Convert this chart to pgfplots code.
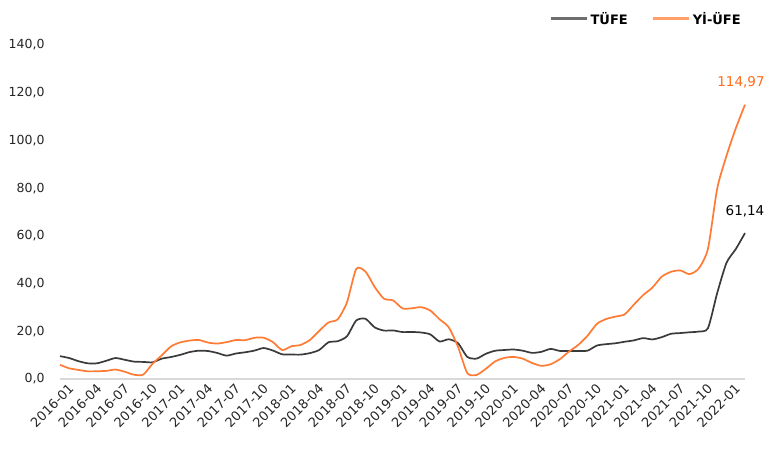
\documentclass[border=0pt]{standalone}
\usepackage{pgfplots}
\pgfplotsset{compat=1.18}
\usepackage{pgfplotstable}
\usepackage{fontspec}
\setmainfont{DejaVu Sans}
\definecolor{tufe}{HTML}{3A3A3A}
\definecolor{ufe}{HTML}{FF7A33}
\definecolor{ufelab}{HTML}{FF6A1A}
\definecolor{tufeleg}{HTML}{6E6E6E}
\definecolor{ufeleg}{HTML}{FF9F6A}
\definecolor{axgray}{HTML}{D9D9D9}
\pgfplotstableread{
x tufe ufe
0 9.58 5.94
1 8.78 4.47
2 7.46 3.80
3 6.57 3.21
4 6.58 3.25
5 7.64 3.41
6 8.79 3.96
7 8.05 3.03
8 7.28 1.78
9 7.16 1.84
10 7.00 6.41
11 8.53 9.94
12 9.22 13.69
13 10.13 15.36
14 11.29 16.09
15 11.87 16.37
16 11.72 15.26
17 10.90 14.87
18 9.79 15.45
19 10.68 16.34
20 11.20 16.28
21 11.90 17.28
22 12.98 17.30
23 11.92 15.47
24 10.35 12.14
25 10.26 13.71
26 10.23 14.28
27 10.85 16.37
28 12.15 20.16
29 15.39 23.71
30 15.85 25.00
31 17.90 32.13
32 24.52 46.15
33 25.24 45.01
34 21.62 38.54
35 20.30 33.64
36 20.35 32.93
37 19.67 29.59
38 19.71 29.64
39 19.50 30.12
40 18.71 28.71
41 15.72 25.04
42 16.65 21.66
43 15.01 13.45
44 9.26 2.45
45 8.55 1.70
46 10.56 4.26
47 11.84 7.36
48 12.15 8.84
49 12.37 9.26
50 11.86 8.50
51 10.94 6.71
52 11.39 5.53
53 12.62 6.17
54 11.76 8.33
55 11.77 11.53
56 11.75 14.33
57 11.89 18.20
58 14.03 23.11
59 14.60 25.15
60 14.97 26.16
61 15.61 27.09
62 16.19 31.20
63 17.14 35.17
64 16.59 38.33
65 17.53 42.89
66 18.95 44.92
67 19.25 45.52
68 19.58 43.96
69 19.89 46.31
70 21.31 54.62
71 36.08 79.89
72 48.69 93.53
73 54.44 105.01
74 61.14 114.97
}\datatable
\begin{document}
\begin{tikzpicture}
\path[use as bounding box] (-60bp,-72bp) rectangle (710bp,379bp);
\begin{axis}[
  scale only axis,
  width=685bp, height=334bp,
  xmin=0, xmax=74, ymin=0, ymax=140,
  axis x line*=bottom, axis y line*=left,
  x axis line style={draw=axgray, line width=1.2bp, -},
  y axis line style={draw=none},
  major tick length=0pt,
  xtick={0,3,...,72},
  xticklabels={2016-01,2016-04,2016-07,2016-10,2017-01,2017-04,2017-07,2017-10,2018-01,2018-04,2018-07,2018-10,2019-01,2019-04,2019-07,2019-10,2020-01,2020-04,2020-07,2020-10,2021-01,2021-04,2021-07,2021-10,2022-01},
  ytick={0,20,...,140},
  yticklabel style={font=\fontsize{12.5bp}{15bp}\selectfont, text=black!85,
     /pgf/number format/fixed, /pgf/number format/fixed zerofill,
     /pgf/number format/precision=1, /pgf/number format/use comma,
     /pgf/number format/assume math mode=true, xshift=-12bp},
  x tick label style={font=\fontsize{13bp}{15bp}\selectfont, text=black!85,
     rotate=45, anchor=north east, inner sep=1bp, xshift=4bp, yshift=-7bp},
  legend style={draw=none, at={(0.997,1.105)}, anchor=north east, legend columns=2,
     inner sep=0pt, font=\bfseries\fontsize{13bp}{15bp}\selectfont,
     /tikz/every even column/.append style={column sep=22bp}},
  legend image code/.code={\draw[#1, line width=3bp] (0bp,0bp) -- (36bp,0bp);},
  clip=false,
]
\addlegendimage{tufeleg}
\addlegendentry{TÜFE}
\addlegendimage{ufeleg}
\addlegendentry{Yİ-ÜFE}
\addplot[tufe, line width=1.7bp, smooth, tension=0.4, forget plot] table[x=x, y=tufe] {\datatable}
  node[pos=1, above=12bp, text=black, font=\fontsize{13.5bp}{15bp}\selectfont] {61,14};
\addplot[ufe, line width=1.7bp, smooth, tension=0.4, forget plot] table[x=x, y=ufe] {\datatable}
  node[pos=1, above=12bp, xshift=-4bp, text=ufelab, font=\fontsize{13.5bp}{15bp}\selectfont] {114,97};
\end{axis}
\end{tikzpicture}
\end{document}
